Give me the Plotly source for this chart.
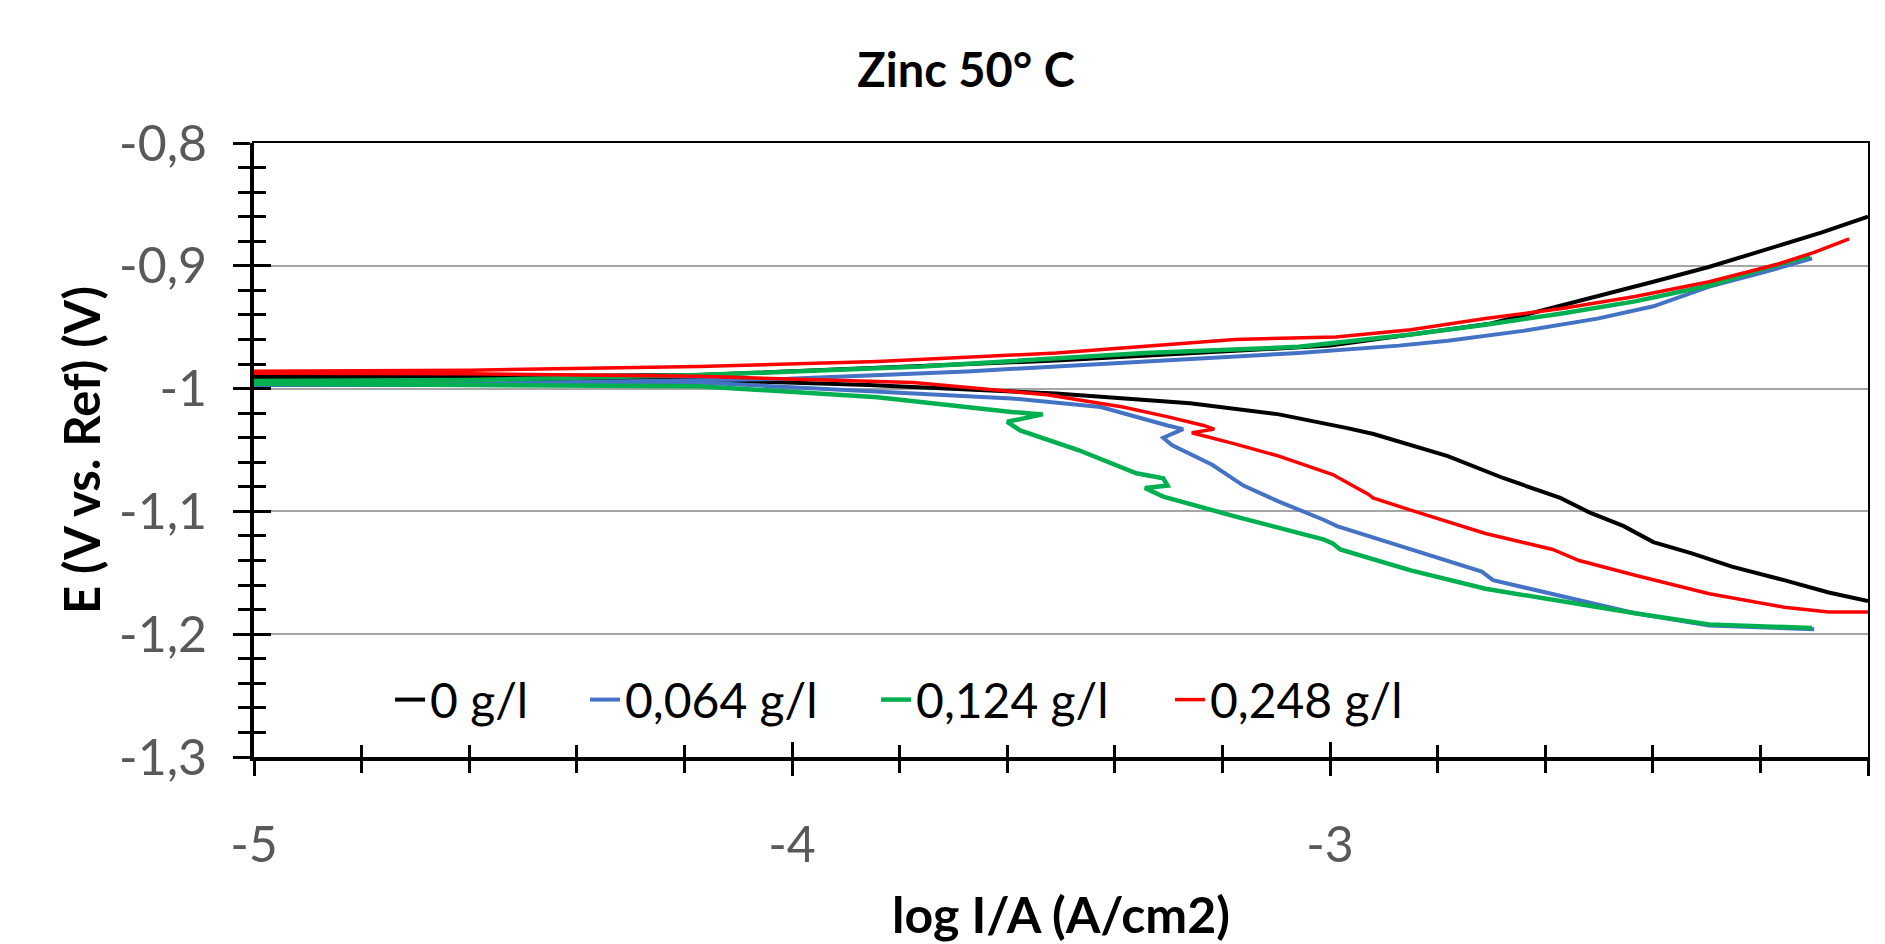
import plotly.graph_objects as go

# ---- data (log I/A vs E), each series traced cathodic branch -> Ecorr -> anodic branch
series_names = ["0 g/l", "0,064 g/l", "0,124 g/l", "0,248 g/l"]
series_colors = ["#000000", "#4472C4", "#00B050", "#FF0000"]

x_0 = [-2.000, -2.073, -2.156, -2.253, -2.329, -2.399, -2.454, -2.517, -2.572, -2.677, -2.781,
       -2.872, -2.919, -2.970, -3.058, -3.095, -3.260, -3.509, -3.858, -4.173, -4.600, -5.500,
       -4.600, -4.173, -3.500, -3.000, -2.700, -2.573, -2.503, -2.399, -2.296, -2.191, -2.087, -2.000]
e_0 = [-1.173, -1.166, -1.156, -1.145, -1.134, -1.125, -1.112, -1.101, -1.089, -1.073, -1.055,
       -1.043, -1.037, -1.032, -1.024, -1.021, -1.012, -1.004, -0.997, -0.993, -0.992, -0.991,
       -0.990, -0.989, -0.977, -0.965, -0.947, -0.933, -0.925, -0.913, -0.901, -0.887, -0.873, -0.860]

x_064 = [-2.100, -2.295, -2.433, -2.572, -2.697, -2.718, -2.815, -2.885, -2.987, -3.011, -3.095,
         -3.161, -3.219, -3.294, -3.310, -3.273, -3.302, -3.360, -3.426, -3.592, -3.924, -4.173,
         -4.600, -5.500,
         -4.600, -4.173, -4.007, -3.675, -3.344, -3.058, -2.872, -2.781, -2.641, -2.503, -2.399,
         -2.295, -2.191, -2.104]
e_064 = [-1.196, -1.193, -1.183, -1.169, -1.156, -1.149, -1.136, -1.126, -1.112, -1.107, -1.092,
         -1.079, -1.062, -1.046, -1.040, -1.033, -1.030, -1.023, -1.015, -1.008, -1.001, -0.995,
         -0.997, -0.997,
         -0.996, -0.993, -0.992, -0.986, -0.978, -0.971, -0.965, -0.961, -0.953, -0.943, -0.933,
         -0.917, -0.905, -0.894]

x_124 = [-2.104, -2.295, -2.433, -2.572, -2.711, -2.850, -2.981, -2.995, -3.011, -3.177, -3.310,
         -3.344, -3.302, -3.310, -3.360, -3.468, -3.576, -3.600, -3.534, -3.592, -3.841, -4.173,
         -4.600, -5.500,
         -4.600, -4.173, -3.758, -3.344, -3.058, -2.850, -2.711, -2.572, -2.433, -2.295, -2.191,
         -2.108]
e_124 = [-1.195, -1.192, -1.183, -1.173, -1.163, -1.148, -1.131, -1.126, -1.123, -1.104, -1.088,
         -1.081, -1.079, -1.073, -1.069, -1.050, -1.034, -1.027, -1.021, -1.019, -1.007, -0.998,
         -0.997, -0.995,
         -0.993, -0.989, -0.982, -0.971, -0.966, -0.956, -0.948, -0.939, -0.929, -0.916, -0.902,
         -0.892]

x_248 = [-2.000, -2.073, -2.156, -2.295, -2.433, -2.537, -2.586, -2.711, -2.850, -2.920, -2.929,
         -2.970, -2.995, -3.095, -3.177, -3.257, -3.215, -3.235, -3.301, -3.385, -3.526, -3.775,
         -4.173, -4.600, -5.500,
         -4.600, -4.173, -3.841, -3.509, -3.177, -2.989, -2.850, -2.711, -2.572, -2.433, -2.295,
         -2.170, -2.100, -2.035]
e_248 = [-1.182, -1.182, -1.178, -1.167, -1.152, -1.140, -1.131, -1.118, -1.099, -1.089, -1.086,
         -1.076, -1.070, -1.055, -1.045, -1.036, -1.033, -1.030, -1.023, -1.015, -1.005, -0.995,
         -0.990, -0.988, -0.987,
         -0.985, -0.982, -0.978, -0.971, -0.960, -0.958, -0.952, -0.943, -0.935, -0.925, -0.913,
         -0.899, -0.889, -0.878]

series_x = [x_0, x_064, x_124, x_248]
series_e = [e_0, e_064, e_124, e_248]
series_widths = [4, 4, 4.5, 3.5]

x_tick_vals = [-5, -4, -3, -2]
x_tick_text = ["-5", "-4", "-3", "-2"]
y_tick_vals = [-1.3, -1.2, -1.1, -1.0, -0.9, -0.8]
y_tick_text = ["-1,3", "-1,2", "-1,1", "-1", "-0,9", "-0,8"]

FONT = "Lato, 'Open Sans', sans-serif"
TICK_GRAY = "#595959"

# one legend box per series so each entry sits where the reference puts it
legend_ids = ["legend", "legend2", "legend3", "legend4"]
legend_x = [0.0843, 0.2051, 0.3854, 0.5675]

fig = go.Figure()
for name, xs, es, col, w, lid in zip(series_names, series_x, series_e, series_colors,
                                     series_widths, legend_ids):
    fig.add_trace(go.Scatter(x=xs, y=es, mode="lines", name=name, legend=lid,
                             line=dict(color=col, width=w)))

# dummy trace to create overlay axes (inside half of the "cross" ticks, thin top/right border)
fig.add_trace(go.Scatter(x=[], y=[], xaxis="x2", yaxis="y2", showlegend=False, hoverinfo="skip"))

legend_common = dict(orientation="h", xanchor="left", y=0.093, yanchor="middle",
                     font=dict(family=FONT, size=48, color="black"),
                     bgcolor="rgba(0,0,0,0)", itemwidth=30)

fig.update_layout(
    width=1885, height=944,
    margin=dict(l=254, r=17, t=143, b=187),
    paper_bgcolor="white", plot_bgcolor="white",
    font=dict(family=FONT, color="black"),
    title=dict(text="Zinc 50° C", x=0.5125, xanchor="center", y=0.925, yanchor="middle",
               font=dict(family=FONT, size=47, color="black", weight="bold")),
    showlegend=True,
    legend=dict(x=legend_x[0], **legend_common),
    legend2=dict(x=legend_x[1], **legend_common),
    legend3=dict(x=legend_x[2], **legend_common),
    legend4=dict(x=legend_x[3], **legend_common),
    xaxis=dict(range=[-5, -2], tickmode="array", tickvals=x_tick_vals, ticktext=x_tick_text,
               showgrid=False, zeroline=False,
               showline=True, linecolor="black", linewidth=4,
               ticks="outside", ticklen=15, tickwidth=3, tickcolor="black",
               minor=dict(tickmode="linear", tick0=-5, dtick=0.2, ticks="outside", ticklen=12,
                          tickwidth=3, tickcolor="black", showgrid=False),
               tickfont=dict(family=FONT, size=50, color=TICK_GRAY), ticklabelstandoff=26,
               title=dict(text="log I/A (A/cm2)", standoff=38,
                          font=dict(family=FONT, size=50, color="black", weight="bold")),
               automargin=False),
    yaxis=dict(range=[-1.3, -0.8], tickmode="array", tickvals=y_tick_vals, ticktext=y_tick_text,
               showgrid=True, gridcolor="#A6A6A6", gridwidth=2, zeroline=False,
               showline=True, linecolor="black", linewidth=4,
               ticks="outside", ticklen=17, tickwidth=3, tickcolor="black",
               minor=dict(tickmode="linear", tick0=-1.3, dtick=0.02, ticks="outside", ticklen=12,
                          tickwidth=3, tickcolor="black", showgrid=False),
               tickfont=dict(family=FONT, size=50, color=TICK_GRAY), ticklabelstandoff=16,
               title=dict(text="E (V vs. Ref) (V)", standoff=4,
                          font=dict(family=FONT, size=49, color="black", weight="bold")),
               automargin=False),
    xaxis2=dict(overlaying="x", anchor="y2", side="bottom", range=[-5, -2],
                tickmode="array", tickvals=x_tick_vals, showticklabels=False,
                showgrid=False, zeroline=False,
                showline=True, linecolor="black", linewidth=2, mirror=True,
                ticks="inside", ticklen=15, tickwidth=3, tickcolor="black",
                minor=dict(tickmode="linear", tick0=-5, dtick=0.2, ticks="inside", ticklen=12,
                           tickwidth=3, tickcolor="black", showgrid=False)),
    yaxis2=dict(overlaying="y", anchor="x2", side="left", range=[-1.3, -0.8],
                tickmode="array", tickvals=y_tick_vals, showticklabels=False,
                showgrid=False, zeroline=False,
                showline=True, linecolor="black", linewidth=2, mirror=True,
                ticks="inside", ticklen=17, tickwidth=3, tickcolor="black",
                minor=dict(tickmode="linear", tick0=-1.3, dtick=0.02, ticks="inside", ticklen=12,
                           tickwidth=3, tickcolor="black", showgrid=False)),
)

fig.write_html("out.html", config={"displayModeBar": False},
               post_script="document.body.style.margin='0';")
